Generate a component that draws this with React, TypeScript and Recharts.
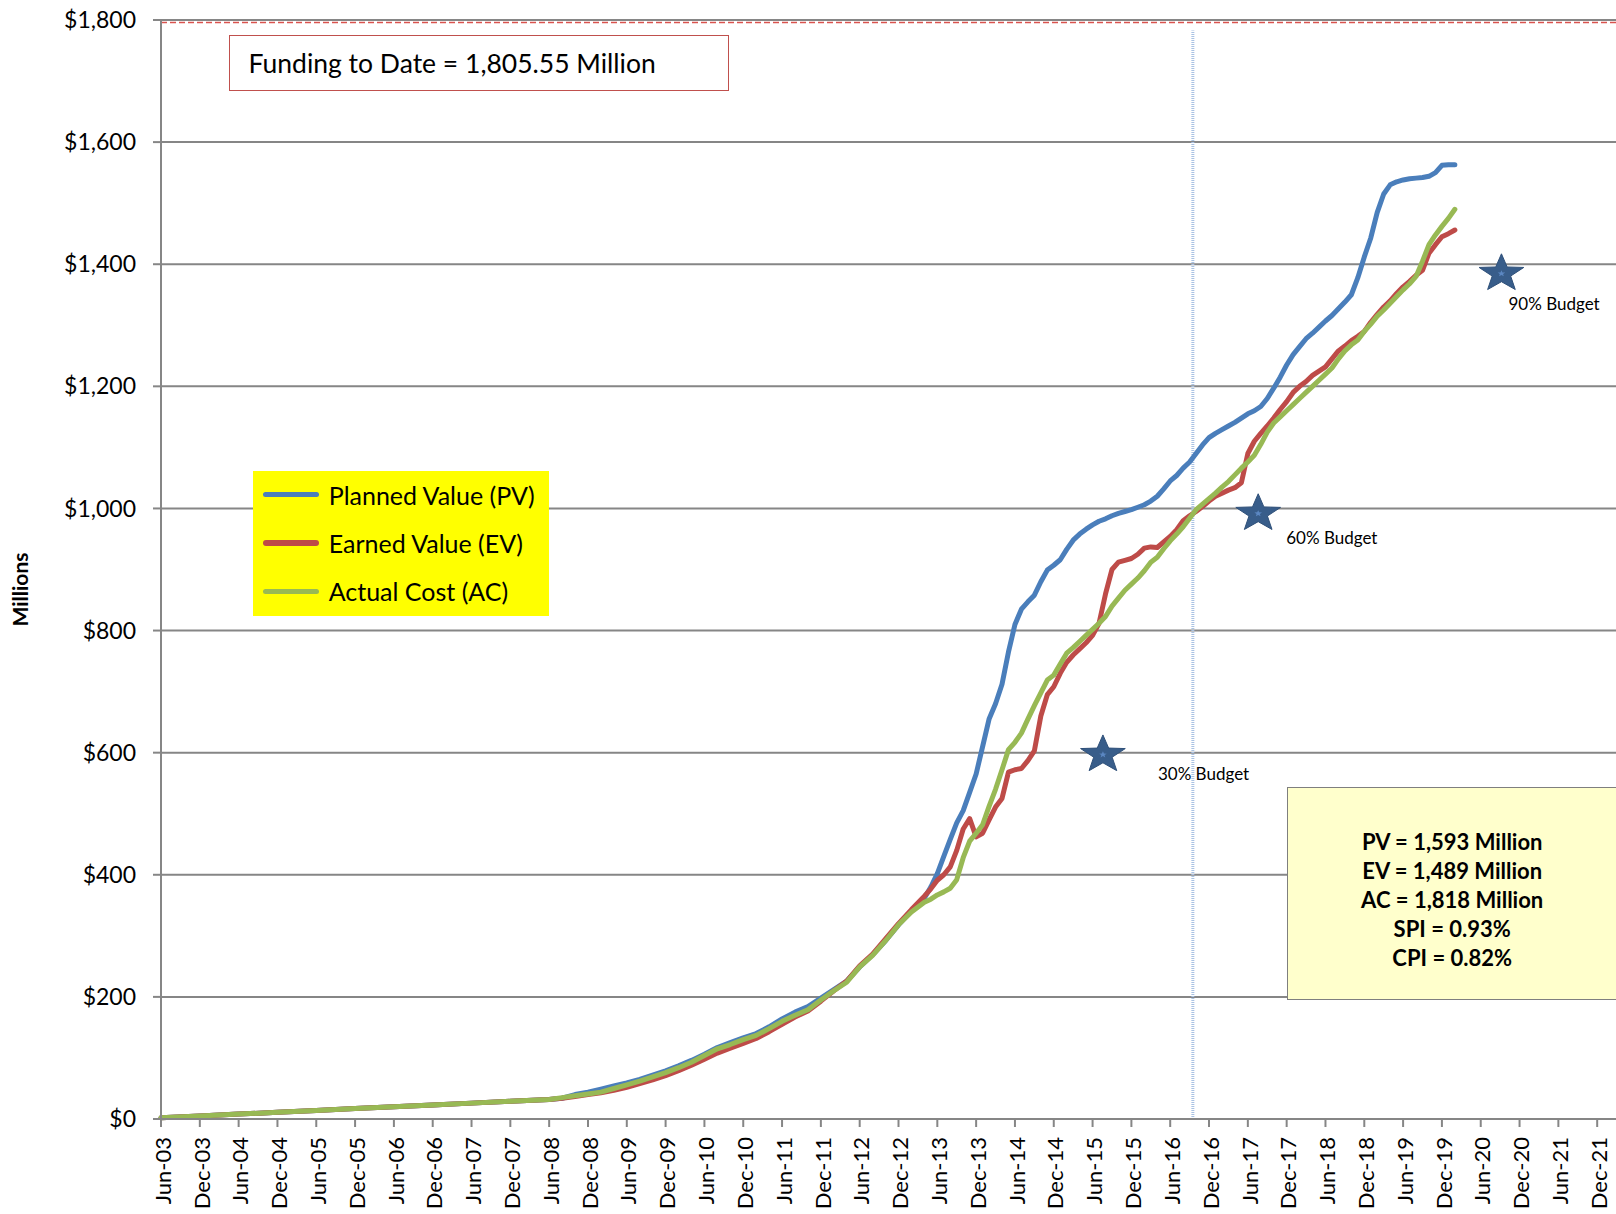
import React from 'react'
import {
  ComposedChart,
  Line,
  Scatter,
  XAxis,
  YAxis,
  CartesianGrid,
  ReferenceLine,
  Legend
} from 'recharts'

// month index 0 = Jun-03
const months = [
  0, 6, 12, 18, 24, 30, 36, 42, 48, 54, 60,
  62, 64, 66, 68, 70, 72, 74, 76, 78, 80, 82, 84, 86, 88, 90, 92, 94, 96, 98, 100, 102, 104, 106, 108, 110, 112, 114, 116,
  118, 119, 120, 121, 122, 123, 124, 125, 126, 127, 128, 129, 130, 131, 132, 133, 134, 135, 136, 137,
  138, 139, 140, 141, 142, 143, 144, 145, 146, 147, 148, 149, 150, 151, 152, 153, 154, 155, 156, 157,
  158, 159, 160, 161, 162, 163, 164, 165, 166, 167, 168, 169, 170, 171, 172, 173, 174, 175, 176, 177,
  178, 179, 180, 181, 182, 183, 184, 185, 186, 187, 188, 189, 190, 191, 192, 193, 194, 195, 196, 197,
  198, 199, 200
]

const pvValues = [
  2, 5, 8, 11, 14, 17, 20, 23, 26, 29, 32,
  34, 40, 44, 49, 54, 59, 65, 72, 79, 87, 96, 106, 117, 125, 133, 140, 151, 164, 175, 184, 198, 212, 226, 249, 269, 292, 318, 341,
  362, 380, 402, 430, 458, 485, 505, 535, 565, 610, 655, 680, 712, 765, 810, 835, 847, 858, 880, 899,
  907, 916, 933, 948, 958, 966, 973, 979, 983, 988, 992, 995, 998, 1002, 1006, 1012, 1020, 1032, 1045, 1054,
  1066, 1076, 1090, 1104, 1116, 1123, 1129, 1135, 1141, 1148, 1155, 1160, 1167, 1180, 1197, 1215, 1235, 1252, 1265, 1278,
  1287, 1297, 1307, 1316, 1327, 1338, 1350, 1378, 1412, 1443, 1485, 1515, 1530, 1535, 1538, 1540, 1541, 1542, 1544, 1550,
  1562, 1563, 1563
]

const evValues = [
  2, 5, 8, 11, 14, 17, 20, 23, 26, 29, 32,
  34, 37, 40, 43, 47, 52, 58, 64, 71, 79, 88, 98, 108, 116, 124, 132, 143, 155, 167, 177, 193, 210, 226, 251, 270, 295, 320, 343,
  365, 377, 391, 400, 413, 440, 475, 492, 462, 468, 490, 511, 525, 568, 572, 574, 587, 603, 660, 695,
  708, 730, 748, 760, 770, 780, 792, 812, 860, 900, 912, 915, 918, 925, 935, 937, 936, 945, 954, 965,
  980, 988, 995, 1003, 1012, 1020, 1025, 1030, 1034, 1042, 1090, 1110, 1123, 1135, 1148, 1162, 1175, 1190, 1200, 1208,
  1218, 1225, 1232, 1245, 1258, 1266, 1275, 1282, 1290, 1305, 1318, 1330, 1340, 1352, 1363, 1372, 1382, 1390, 1418, 1432,
  1445, 1450, 1456
]

const acValues = [
  2, 5, 8, 11, 14, 17, 20, 23, 26, 29, 32,
  35, 38, 41, 44, 50, 56, 62, 69, 76, 84, 93, 104, 115, 122, 130, 137, 148, 160, 170, 179, 195, 210, 224, 249, 268, 292, 318, 339,
  355, 360, 367, 372, 378, 392, 428, 455, 468, 482, 512, 540, 572, 605, 617, 632, 655, 677, 698, 719,
  727, 745, 763, 772, 782, 792, 802, 812, 823, 840, 853, 866, 876, 886, 898, 912, 920, 934, 947, 958,
  970, 984, 998, 1007, 1016, 1025, 1035, 1044, 1055, 1066, 1076, 1087, 1105, 1125, 1140, 1150, 1160, 1170, 1180, 1190,
  1200, 1210, 1220, 1230, 1245, 1258, 1268, 1276, 1290, 1302, 1315, 1325, 1336, 1347, 1358, 1368, 1380, 1405, 1432, 1448,
  1462, 1475, 1490
]

const seriesNames = ['Planned Value (PV)', 'Earned Value (EV)', 'Actual Cost (AC)']
const seriesColors = ['#4A7EBB', '#BE4B48', '#98B954']

const tickLabels = [
  'Jun-03', 'Dec-03', 'Jun-04', 'Dec-04', 'Jun-05', 'Dec-05', 'Jun-06', 'Dec-06', 'Jun-07', 'Dec-07',
  'Jun-08', 'Dec-08', 'Jun-09', 'Dec-09', 'Jun-10', 'Dec-10', 'Jun-11', 'Dec-11', 'Jun-12', 'Dec-12',
  'Jun-13', 'Dec-13', 'Jun-14', 'Dec-14', 'Jun-15', 'Dec-15', 'Jun-16', 'Dec-16', 'Jun-17', 'Dec-17',
  'Jun-18', 'Dec-18', 'Jun-19', 'Dec-19', 'Jun-20', 'Dec-20', 'Jun-21', 'Dec-21'
]
const yTicks = [0, 200, 400, 600, 800, 1000, 1200, 1400, 1600, 1800]

const starMonths = [145.6, 169.6, 207.2]
const starValues = [600, 995, 1388]
const starLabels = ['30% Budget', '60% Budget', '90% Budget']

const statusMonth = 159.5
const fundingLevel = 1796
const fundingText = 'Funding to Date = 1,805.55 Million'
const statsLines = ['PV = 1,593 Million', 'EV = 1,489 Million', 'AC = 1,818 Million', 'SPI = 0.93%', 'CPI = 0.82%']

const data = months.map((m, i) => ({ m, pv: pvValues[i], ev: evValues[i], ac: acValues[i] }))
const stars = starMonths.map((m, i) => ({ m, v: starValues[i], name: starLabels[i] }))
const xTicks = tickLabels.map((_, i) => i * 6)

// where each star's caption sits relative to the star
const captionOffset: Record<string, [number, number]> = {
  '30% Budget': [55, 27],
  '60% Budget': [28, 33],
  '90% Budget': [7, 38]
}

function starPath(cx: number, cy: number, R: number, r: number, sy: number) {
  let d = ''
  for (let i = 0; i < 10; i++) {
    const a = (-90 + i * 36) * Math.PI / 180
    const rad = i % 2 === 0 ? R : r
    d += (i === 0 ? 'M' : 'L') + (cx + rad * Math.cos(a)).toFixed(2) + ',' + (cy + rad * Math.sin(a) * sy).toFixed(2)
  }
  return d + 'Z'
}

const StarShape = (props: any) => {
  const { cx, cy, payload } = props
  const c = cy + 2
  const off = captionOffset[payload.name] || [20, 30]
  return (
    <g>
      <path d={starPath(cx, c, 23.5, 9.7, 0.84)} fill="#385D8A" stroke="#2F5079" strokeWidth={1} />
      <path d={starPath(cx, c, 4, 1.7, 0.84)} fill="#5B87C2" />
      <text x={cx + off[0]} y={cy + off[1]} fontSize={17} fill="#000" fontFamily="Lato, sans-serif">
        {payload.name}
      </text>
    </g>
  )
}

const XTick = (props: any) => {
  const { x, y, payload } = props
  return (
    <text
      transform={`translate(${x},${y}) rotate(-90)`}
      x={-10}
      dy="0.44em"
      textAnchor="end"
      fontSize={22}
      fill="#000"
      fontFamily="Lato, sans-serif"
    >
      {tickLabels[Math.round(payload.value / 6)]}
    </text>
  )
}

const renderLegend = () => (
  <div style={{ background: '#FFFF00', width: 296, height: 145, position: 'relative' }}>
    {seriesNames.map((name, i) => (
      <div key={name} style={{ position: 'absolute', left: 0, top: 24 + i * 48.3 - 16, height: 32, display: 'flex', alignItems: 'center' }}>
        <div style={{ marginLeft: 10, width: 56, height: 5.5, borderRadius: 3, background: seriesColors[i] }} />
        <span style={{ marginLeft: 10, fontSize: 25, color: '#000', fontFamily: 'Lato, sans-serif', whiteSpace: 'nowrap' }}>{name}</span>
      </div>
    ))}
  </div>
)

const axisStroke = '#868686'

export default function App() {
  return (
    <div style={{ position: 'absolute', left: 0, top: 0, width: 1616, height: 1214, overflow: 'hidden', background: '#fff', fontFamily: 'Lato, sans-serif' }}>
      <ComposedChart width={1636} height={1214} data={data} margin={{ top: 20, right: 0, left: 0, bottom: 0 }}>
        <CartesianGrid vertical={false} stroke={axisStroke} strokeWidth={2} />
        <XAxis
          dataKey="m"
          type="number"
          domain={[0, 228]}
          ticks={xTicks}
          interval={0}
          height={95}
          tickSize={8}
          tickMargin={0}
          tick={<XTick />}
          axisLine={{ stroke: axisStroke, strokeWidth: 2 }}
          tickLine={{ stroke: axisStroke, strokeWidth: 2 }}
        />
        <YAxis
          type="number"
          domain={[0, 1800]}
          ticks={yTicks}
          width={161}
          tickSize={8}
          tickMargin={17}
          tickFormatter={(v) => `$${v.toLocaleString('en-US')}`}
          tick={{ fill: '#000', fontSize: 23, fontFamily: 'Lato, sans-serif' }}
          axisLine={{ stroke: axisStroke, strokeWidth: 2 }}
          tickLine={{ stroke: axisStroke, strokeWidth: 2 }}
          label={{
            content: (p: any) => {
              const vb = p.viewBox || { x: 0, y: 20, height: 1099 }
              const cy = vb.y + vb.height / 2 + 20
              return (
                <text transform={`translate(28,${cy}) rotate(-90)`} textAnchor="middle" fontSize={21} fontWeight="bold" fill="#000" fontFamily="Lato, sans-serif">
                  Millions
                </text>
              )
            }
          }}
        />
        <ReferenceLine y={fundingLevel} stroke="#D9534F" strokeWidth={1.5} strokeDasharray="6 3" />
        <ReferenceLine
          segment={[{ x: statusMonth, y: 0 }, { x: statusMonth, y: 1783 }]}
          stroke="#A9C2E3"
          strokeWidth={3}
          strokeDasharray="1 1"
        />
        <Legend
          layout="horizontal"
          verticalAlign="middle"
          align="center"
          content={renderLegend}
          wrapperStyle={{ left: 252.7, top: 470.7, width: 296, height: 145 }}
        />
        <Line type="linear" dataKey="pv" name={seriesNames[0]} stroke={seriesColors[0]} strokeWidth={5} dot={false} strokeLinejoin="round" strokeLinecap="round" isAnimationActive={false} />
        <Line type="linear" dataKey="ev" name={seriesNames[1]} stroke={seriesColors[1]} strokeWidth={5} dot={false} strokeLinejoin="round" strokeLinecap="round" isAnimationActive={false} />
        <Line type="linear" dataKey="ac" name={seriesNames[2]} stroke={seriesColors[2]} strokeWidth={5} dot={false} strokeLinejoin="round" strokeLinecap="round" isAnimationActive={false} />
        <Scatter data={stars} dataKey="v" legendType="none" shape={<StarShape />} isAnimationActive={false} />
      </ComposedChart>

      <div style={{ position: 'absolute', left: 228.5, top: 35, width: 500, height: 56, boxSizing: 'border-box', border: '1.5px solid #C0504D', background: '#fff', display: 'flex', alignItems: 'center', paddingLeft: 19, fontSize: 26.5, color: '#000' }}>
        {fundingText}
      </div>

      <div style={{ position: 'absolute', left: 1286.7, top: 786.7, width: 331, height: 213.3, boxSizing: 'border-box', border: '1.5px solid #7F7F7F', background: '#FFFFCC', paddingTop: 39, textAlign: 'center', fontWeight: 'bold', fontSize: 22, lineHeight: '29px', color: '#000' }}>
        {statsLines.map((s) => (
          <div key={s}>{s}</div>
        ))}
      </div>
    </div>
  )
}
